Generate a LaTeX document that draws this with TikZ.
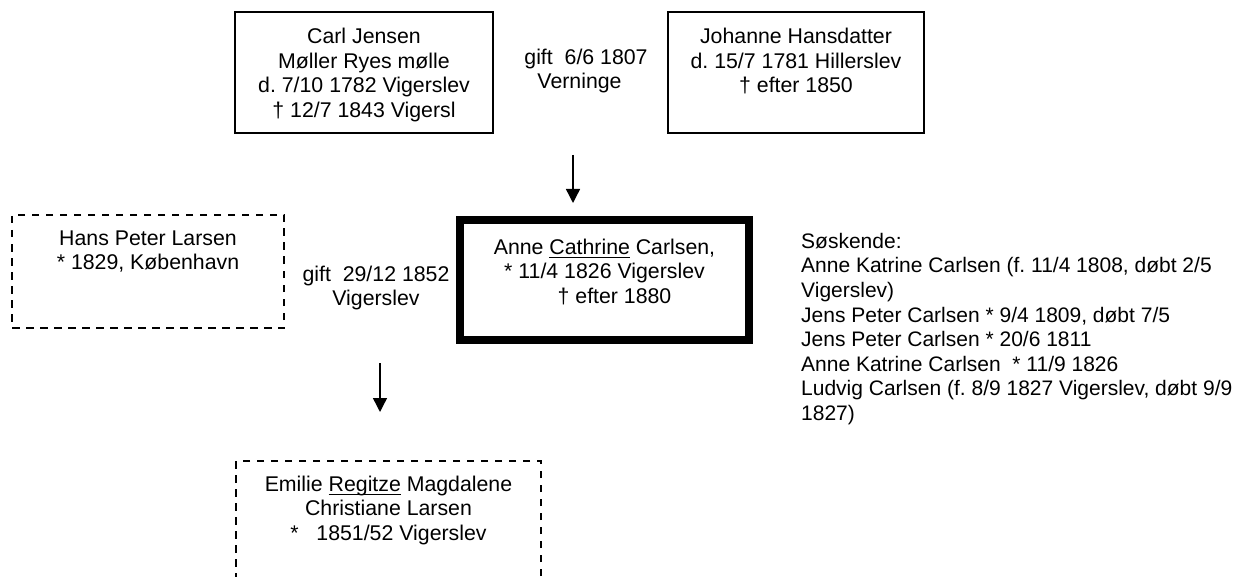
\documentclass[tikz,border=0pt]{standalone}
\usepackage{fontspec}
\setmainfont{Liberation Sans}
\usetikzlibrary{arrows.meta}
\newcommand\myul[1]{\setbox0\hbox{#1}\rlap{\rule[-3.8pt]{\wd0}{1.4pt}}\box0\relax}
\frenchspacing
\begin{document}
\frenchspacing
\begin{tikzpicture}[x=1pt,y=-1pt,
  every node/.style={font=\fontsize{21.3}{24.6}\selectfont},
  txt/.style={anchor=north, inner sep=0pt, align=center},
  sidetxt/.style={anchor=north west, inner sep=0pt, align=left, font=\fontsize{21}{24.6}\selectfont},
  solidbox/.style={draw, line width=1.4pt, inner sep=0pt},
  dashbox/.style={draw, line width=1.4pt, dash pattern=on 7.5pt off 6.5pt, inner sep=0pt},
  mainbox/.style={draw, line width=8pt, inner sep=0pt},
  arr/.style={line width=1.4pt, -{Triangle[length=14pt,width=14pt]}}]
\useasboundingbox (0,0) rectangle (1241,577);
\clip (0,0) rectangle (1241,577);
% boxes
\node[solidbox, minimum width=258pt, minimum height=121pt] (carl) at (364,72.5) {};
\node[solidbox, minimum width=256pt, minimum height=121pt] (johanne) at (796,72.5) {};
\node[mainbox, minimum width=289pt, minimum height=120pt] (anne) at (604.5,280) {};
\node[dashbox, minimum width=272pt, minimum height=113pt] (hans) at (148,271.5) {};
\node[dashbox, minimum width=305pt, minimum height=160pt] (emilie) at (388.5,541) {};
% texts
\node[txt] (carltxt) at (364,26.1) {\strut Carl Jensen\\Møller Ryes mølle\\d. 7/10 1782 Vigerslev\\† 12/7 1843 Vigersl};
\node[txt] (johannetxt) at (796,26.1) {\strut Johanne Hansdatter\\d. 15/7 1781 Hillerslev\\† efter 1850};
\node[txt] (gift1) at (586,46.8) {\strut gift\ \ 6/6 1807\\Verninge\hspace*{13pt}};
\node[txt] (annetxt) at (604.5,236.8) {\strut Anne \myul{Cathrine} Carlsen,\\{}* 11/4 1826 Vigerslev\\\hspace*{20pt}† efter 1880};
\node[txt] (hanstxt) at (148,227.8) {\strut Hans Peter Larsen\\{}* 1829, København};
\node[txt] (gift2) at (376,263.8) {\strut gift\ \ 29/12 1852\\Vigerslev};
\node[txt] (emilietxt) at (388.5,473.8) {\strut Emilie \myul{Regitze} Magdalene\\Christiane Larsen\\{}*\ \ \ 1851/52 Vigerslev};
\node[sidetxt] (soskende) at (801,230.8) {\strut Søskende:\\Anne Katrine Carlsen (f. 11/4 1808, døbt 2/5\\Vigerslev)\\Jens Peter Carlsen * 9/4 1809, døbt 7/5\\Jens Peter Carlsen * 20/6 1811\\Anne Katrine Carlsen\ \ * 11/9 1826\\Ludvig Carlsen (f. 8/9 1827 Vigerslev, døbt 9/9\\1827)};
% arrows
\coordinate (a1s) at (573,155);
\coordinate (a1e) at (573,203);
\draw[arr] (a1s) -- (a1e);
\coordinate (a2s) at (380,363);
\coordinate (a2e) at (380,412);
\draw[arr] (a2s) -- (a2e);
\end{tikzpicture}
\end{document}
